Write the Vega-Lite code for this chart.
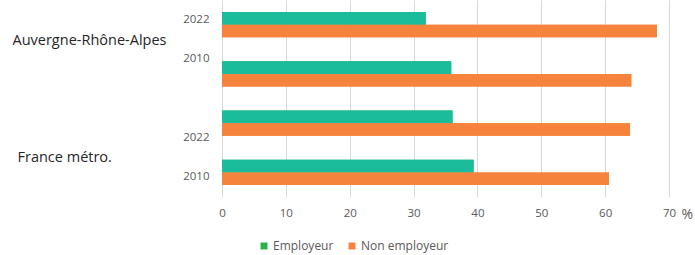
{
  "$schema": "https://vega.github.io/schema/vega-lite/v6.json",
  "width": 447,
  "height": 197,
  "autosize": "none",
  "padding": {"left": 222, "top": 0, "right": 26, "bottom": 58},
  "background": "white",
  "config": {"view": {"stroke": null}, "font": "Open Sans"},
  "data": {
    "values": [
      {"region": "Auvergne-Rhône-Alpes", "year": "2022", "row": "ARA 2022", "series": "Employeur", "value": 31.9},
      {"region": "Auvergne-Rhône-Alpes", "year": "2022", "row": "ARA 2022", "series": "Non employeur", "value": 68.1},
      {"region": "Auvergne-Rhône-Alpes", "year": "2010", "row": "ARA 2010", "series": "Employeur", "value": 35.9},
      {"region": "Auvergne-Rhône-Alpes", "year": "2010", "row": "ARA 2010", "series": "Non employeur", "value": 64.1},
      {"region": "France métro.", "year": "2022", "row": "FR 2022", "series": "Employeur", "value": 36.1},
      {"region": "France métro.", "year": "2022", "row": "FR 2022", "series": "Non employeur", "value": 63.9},
      {"region": "France métro.", "year": "2010", "row": "FR 2010", "series": "Employeur", "value": 39.4},
      {"region": "France métro.", "year": "2010", "row": "FR 2010", "series": "Non employeur", "value": 60.6}
    ]
  },
  "layer": [
    {
      "layer": [
        {
          "mark": {"type": "bar"},
          "encoding": {
            "y": {"field": "row", "type": "nominal", "sort": ["ARA 2022", "ARA 2010", "FR 2022", "FR 2010"],
              "scale": {"paddingInner": 0.49, "paddingOuter": 0.245},
              "axis": {"title": null, "domain": false, "ticks": false, "tickSize": 0, "labelPadding": 13,
                "labelExpr": "slice(datum.value, -4)", "labelColor": "#595959", "labelFontSize": 11.5,
                "labelOffset": {"condition": [
                  {"test": "datum.value === 'ARA 2022'", "value": -5},
                  {"test": "datum.value === 'ARA 2010'", "value": -15},
                  {"test": "datum.value === 'FR 2022'", "value": 15}
                ], "value": 5}}},
            "yOffset": {"field": "series", "type": "nominal", "sort": ["Employeur", "Non employeur"], "scale": {"paddingInner": 0, "paddingOuter": 0}},
            "x": {"field": "value", "type": "quantitative", "scale": {"domain": [0, 70], "nice": false},
              "axis": {"values": [0, 10, 20, 30, 40, 50, 60, 70], "grid": true, "gridColor": "#d9d9d9", "domain": false, "ticks": false,
                "labelColor": "#595959", "labelFontSize": 11.5, "labelPadding": 10, "labelFlush": false,
                "title": "%", "titleX": 459, "titleY": 17, "titleAlign": "left", "titleBaseline": "middle",
                "titleFontWeight": "normal", "titleFontSize": 14, "titleColor": "#595959"}},
            "color": {"field": "series", "type": "nominal", "sort": ["Employeur", "Non employeur"],
              "scale": {"domain": ["Employeur", "Non employeur"], "range": ["#2BB24C", "#F5823D"]},
              "legend": {"orient": "none", "legendX": 36, "legendY": 240, "direction": "horizontal", "title": null,
                "symbolType": "square", "symbolSize": 49, "symbolStrokeWidth": 0, "labelFontSize": 12, "labelColor": "#595959",
                "columnPadding": 12, "labelOffset": 3}}
          }
        },
        {
          "mark": {"type": "bar"},
          "encoding": {
            "y": {"field": "row", "type": "nominal", "sort": ["ARA 2022", "ARA 2010", "FR 2022", "FR 2010"]},
            "yOffset": {"field": "series", "type": "nominal", "sort": ["Employeur", "Non employeur"]},
            "x": {"field": "value", "type": "quantitative"},
            "fill": {"field": "series", "type": "nominal",
              "scale": {"domain": ["Employeur", "Non employeur"], "range": ["#1ABC9C", "#F5823D"]},
              "legend": null}
          }
        }
      ]
    },
    {
      "mark": {"type": "text"},
      "encoding": {
        "y": {"field": "region", "type": "nominal", "sort": ["Auvergne-Rhône-Alpes", "France métro."],
          "scale": {"paddingInner": 0, "paddingOuter": 0},
          "axis": {"orient": "left", "title": null, "domain": false, "ticks": false, "tickSize": 0,
            "labelAlign": "left", "labelFontSize": 14.5, "labelColor": "#262626", "labelLimit": 0,
            "labelPadding": {"condition": {"test": "datum.value === 'France métro.'", "value": 205}, "value": 210},
            "labelOffset": {"condition": {"test": "datum.value === 'France métro.'", "value": 10}, "value": -9}}},
        "text": {"value": ""}
      }
    }
  ],
  "resolve": {"scale": {"y": "independent"}}
}
